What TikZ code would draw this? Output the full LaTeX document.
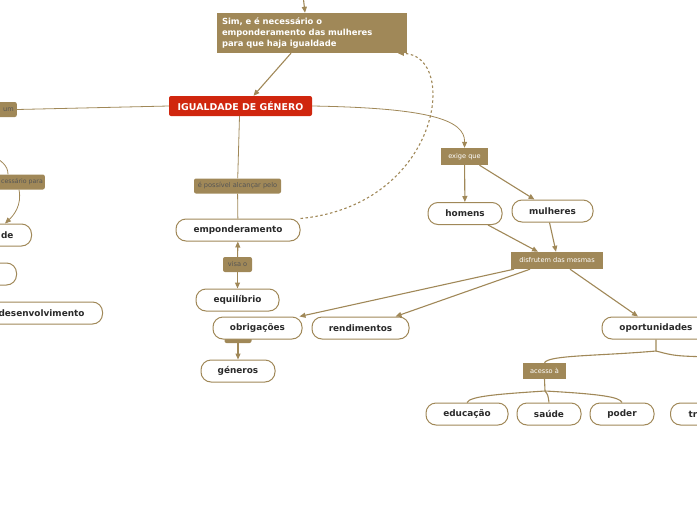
\documentclass[tikz,border=0pt]{standalone}
\usepackage{fontspec}
\setmainfont{DejaVu Sans}
\usetikzlibrary{arrows.meta}
\definecolor{brownc}{HTML}{A08858}
\definecolor{redc}{HTML}{D0260E}
\definecolor{darkc}{HTML}{2A2A2A}
\begin{document}
\begin{tikzpicture}[x=1pt, y=-1pt,
        topic/.style={draw=brownc, fill=white, line width=1pt, rounded corners=10pt, minimum height=22pt, inner xsep=6pt, inner ysep=0pt, text=darkc, font=\bfseries\fontsize{8.9}{10}\selectfont},
        lbl/.style={fill=brownc, rounded corners=2pt, minimum height=15pt, inner xsep=3pt, inner ysep=0pt, text=darkc!80, font=\fontsize{6.6}{7}\selectfont},
        tag/.style={fill=brownc, minimum height=17pt, inner xsep=3pt, inner ysep=0pt, text=white, font=\fontsize{6.6}{7}\selectfont},
        line/.style={draw=brownc, line width=1.1pt},
        conn/.style={line, -{Triangle[length=6pt, width=5pt]}}]
            \useasboundingbox (0,0) rectangle (697,520);
            \clip (0,0) rectangle (697,520);

            \node (sim) at (312,33) [fill=brownc, minimum width=190pt, minimum height=40pt, text width=180pt, inner xsep=5pt, align=left, text=white, font=\bfseries\fontsize{8.4}{11}\selectfont] {Sim, e é necessário o\\emponderamento das mulheres\\para que haja igualdade};
            \node (igual) at (240.5,106) [fill=redc, rounded corners=2pt, minimum width=143pt, minimum height=20pt, inner sep=0pt, text=white, font=\bfseries\fontsize{9.4}{10}\selectfont] {IGUALDADE DE GÉNERO};
            \coordinate (top) at (303,-5);

            \node (um) at (17,109.5) [lbl, anchor=east, minimum width=50pt, align=right, text width=44pt] {um};
            \node (cessario) at (45,182) [lbl, anchor=east, minimum width=70pt, align=right, text width=66pt, inner xsep=2pt, font=\fontsize{6.2}{7}\selectfont] {cessário para};
            \coordinate (lt) at (-12,154);
            \node (de) at (32,235) [topic, anchor=east, minimum width=90pt, text width=60pt, inner xsep=18pt, align=right] {de};
            \node (vazio) at (17,274) [topic, anchor=east, minimum width=70pt] {};
            \node (desenv) at (103,313) [topic, anchor=east, minimum width=140pt, text width=104pt, inner xsep=17pt, align=right] {desenvolvimento};

            \node (possivel) at (237.5,186) [lbl, minimum width=87pt] {é possível alcançar pelo};
            \node (empond) at (238,230) [topic, minimum width=124pt] {emponderamento};
            \node (visa) at (237.5,264.5) [lbl, minimum width=29pt] {visa o};
            \node (equil) at (237.5,300) [topic, minimum width=83pt] {equilíbrio};
            \node (lblgen) at (238,334) [lbl, minimum width=27pt, minimum height=18pt] {};
            \node (obrig) at (257.5,328) [topic, minimum width=89pt] {obrigações};
            \node (generos) at (238,371) [topic, minimum width=74pt] {géneros};
            \node (rend) at (360.5,328) [topic, minimum width=97pt] {rendimentos};

            \node (exige) at (464.5,156.5) [tag, minimum width=47pt] {exige que};
            \node (homens) at (465,213.5) [topic, minimum width=74pt] {homens};
            \node (mulheres) at (552.5,211) [topic, minimum width=81pt] {mulheres};
            \node (disf) at (557,260.5) [tag, minimum width=92pt] {disfrutem das mesmas};
            \node (oport) at (656,328) [topic, minimum width=108pt] {oportunidades};
            \coordinate (oj) at (656,351);
            \coordinate (or) at (712,357);
            \node (acesso) at (544.5,371) [tag, minimum width=43pt, minimum height=16pt] {acesso à};
            \coordinate (aj) at (545,391);
            \node (educ) at (467,414) [topic, minimum width=82pt] {educação};
            \node (saude) at (549,414) [topic, minimum width=64pt] {saúde};
            \node (poder) at (622,414) [topic, minimum width=64pt] {poder};
            \node (tr) at (670,414) [topic, anchor=west, minimum width=70pt, text width=40pt, inner xsep=18pt, align=left] {tr};

            \draw[conn] (top) -- ([xshift=-7pt]sim.north);
            \draw[conn] ([xshift=-21pt]sim.south) -- ([xshift=13pt]igual.north);
            \draw[line, line width=0.8pt] (igual.west) -- (um.east);
            \draw[conn, line width=0.8pt] (igual.east) .. controls (430,108) and (465,120) .. (exige.north);
            \draw[line, line width=0.8pt] ([xshift=-1pt]igual.south) -- (possivel);
            \draw[line, line width=0.8pt] (possivel) -- (empond);
            \draw[conn, dashed, dash pattern=on 2.5pt off 2.5pt] (empond.north east) .. controls (440,205) and (460,55) .. ([xshift=86pt]sim.south);
            \draw[conn] (visa) -- (empond);
            \draw[conn] (visa) -- (equil);
            \draw[conn] (lblgen) -- (generos);

            \draw[line, line width=0.8pt] (lt) .. controls (2,160) and (8,166) .. ([xshift=-37pt]cessario.north east);
            \draw[conn, line width=0.8pt] ([xshift=-26pt]cessario.south east) .. controls (22,205) and (14,215) .. ([xshift=-27pt]de.north east);

            \draw[conn] (exige) -- (homens);
            \draw[conn] ([xshift=15pt]exige.south) -- ([xshift=-18pt]mulheres.north);
            \draw[conn] ([xshift=23pt]homens.south) -- ([xshift=-19pt]disf.north);
            \draw[conn] ([xshift=-3pt]mulheres.south) -- ([xshift=-1pt]disf.north);
            \draw[conn] ([xshift=-43pt]disf.south) -- ([xshift=42pt]obrig.north);
            \draw[conn] ([xshift=-27pt]disf.south) -- ([xshift=35pt]rend.north);
            \draw[conn] ([xshift=13pt]disf.south) -- ([xshift=-18pt]oport.north);

            \draw[line] (oport.south) -- (oj) .. controls (600,356) and (548,355) .. (acesso.north);
            \draw[line] (oj) .. controls (675,356) .. (or);
            \draw[line] (acesso.south) -- (aj) .. controls (500,394) and (470,396) .. (educ.north);
            \draw[line] (aj) .. controls (548,395) .. (saude.north);
            \draw[line] (aj) .. controls (600,394) and (620,397) .. (poder.north);
        \end{tikzpicture}
\end{document}
